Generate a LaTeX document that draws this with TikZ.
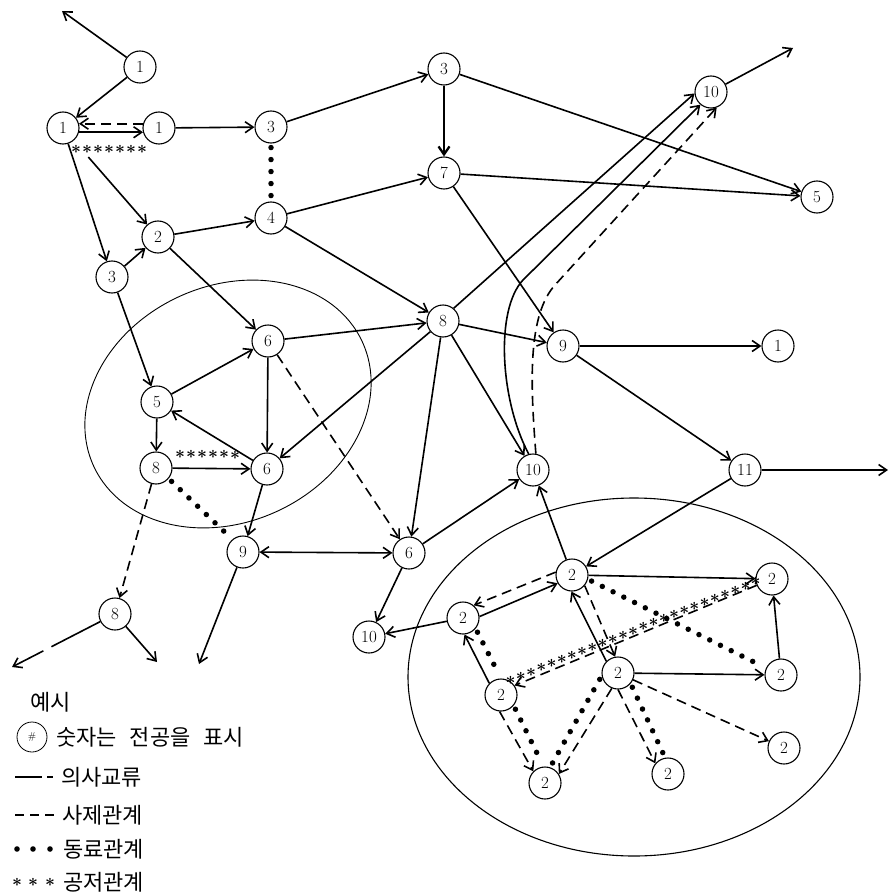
\documentclass[tikz,border=0pt]{standalone}
\usepackage{fontspec}
\newfontfamily\kr{Noto Sans CJK KR}
\usetikzlibrary{arrows.meta,calc,decorations.markings}
\begin{document}
\begin{tikzpicture}[x=1pt,y=-1pt,
  nd/.style={circle,draw,line width=1.1pt,minimum size=32pt,inner sep=0pt,font=\fontsize{17}{17}\selectfont},
  ed/.style={line width=1.6pt,-{Straight Barb[length=8pt,width=11pt]}},
  edd/.style={ed,dash pattern=on 10pt off 6pt},
  edb/.style={line width=1.6pt,{Straight Barb[length=8pt,width=11pt]}-{Straight Barb[length=8pt,width=11pt]}},
  bigdots/.style={line width=5.5pt,line cap=round,dash pattern=on 0pt off 12pt,shorten <=4pt,shorten >=4pt},
  astx/.style={inner sep=0pt,font=\fontsize{18}{18}\selectfont\boldmath},
  stars/.style={decoration={markings,mark=between positions 0 and 1 step 11pt with {\node[astx]{$\ast$};}},decorate},
  lgtext/.style={anchor=west,inner sep=0pt,font=\kr\fontsize{22}{22}\selectfont},
  ring/.style={line width=0.9pt}
]
\useasboundingbox (0,0) rectangle (891,896);

% enclosing ellipses
\draw[ring,rotate around={25:(228,404)}] (228,404) ellipse [x radius=148, y radius=118];
\draw[ring,line width=1.1pt] (634,677) ellipse [x radius=226, y radius=179];

% nodes
\node[nd] (A1) at (140,67) {1};
\node[nd] (B1) at (63,128) {1};
\node[nd] (C1) at (159,128) {1};
\node[nd] (D3) at (271,127) {3};
\node[nd] (E3) at (444,69) {3};
\node[nd] (F10) at (711,92) {10};
\node[nd] (G7) at (444,173) {7};
\node[nd] (H5) at (817,197) {5};
\node[nd] (I4) at (271,218) {4};
\node[nd] (J2) at (158,237) {2};
\node[nd] (K3) at (112,277) {3};
\node[nd] (L6) at (268,341) {6};
\node[nd] (M8) at (443,321) {8};
\node[nd] (N9) at (563,346) {9};
\node[nd] (O1) at (778,346) {1};
\node[nd] (P5) at (157,402) {5};
\node[nd] (Q8) at (156,468) {8};
\node[nd] (R6) at (267,469) {6};
\node[nd] (S10) at (533,470) {10};
\node[nd] (T11) at (745,470) {11};
\node[nd] (U9) at (243,552) {9};
\node[nd] (V6) at (409,553) {6};
\node[nd] (W8) at (115,614) {8};
\node[nd] (X10) at (369,637) {10};
\node[nd] (Ya) at (572,575) {2};
\node[nd] (Yb) at (772,579) {2};
\node[nd] (Yc) at (463,618) {2};
\node[nd] (Yd) at (618,673) {2};
\node[nd] (Ye) at (781,675) {2};
\node[nd] (Yf) at (501,695) {2};
\node[nd] (Yg) at (784,748) {2};
\node[nd] (Yh) at (545,783) {2};
\node[nd] (Yi) at (668,774) {2};

% free ends
\coordinate (oA) at (62,11);
\coordinate (oF) at (793,48);
\coordinate (oT) at (888,470);
\coordinate (oW1) at (12,667);
\coordinate (oW2) at (157,662);
\coordinate (oU) at (199,664);

% upper-left part
\draw[ed] (A1) -- (oA);
\draw[ed] (A1) -- (B1);
\draw[edd] (C1.165) -- (B1.15);
\draw[ed] (B1.-15) -- (C1.-165);
\path[stars] ($(B1)+(13,21)$) -- ($(C1)+(-9,21)$);
\draw[ed] (C1) -- (D3);
\draw[ed] (B1) -- (K3);
\draw[ed,shorten <=22pt] (B1) -- (J2);
\draw[ed] (K3) -- (J2);
\draw[ed] (J2) -- (I4);
\draw[bigdots] (D3.south) -- (I4.north);
\draw[ed] (D3) -- (E3);
\draw[ed,line width=2.3pt] (E3) -- (G7);
\draw[ed] (E3) -- (H5);
\draw[ed] (G7) -- (H5);
\draw[ed] (I4) -- (G7);
\draw[ed] (I4) -- (M8);
\draw[ed] (G7) -- (N9);

% left cluster
\draw[ed] (J2) -- (L6);
\draw[ed] (K3) -- (P5);
\draw[ed] (P5) -- (L6);
\draw[ed] (L6) -- (R6);
\draw[ed] (R6) -- (P5);
\draw[ed] (P5) -- (Q8);
\draw[ed] (Q8) -- (R6);
\path[stars] ($(Q8)+(24,-14)$) -- ($(R6)+(-28,-14)$);
\draw[bigdots] (Q8.-40) -- (U9.130);
\draw[edd] (Q8) -- (W8);
\draw[ed,dash pattern=on 55pt off 9pt] (W8) -- (oW1);
\draw[ed] (W8) -- (oW2);
\draw[ed] (R6) -- (U9);
\draw[ed] (U9) -- (oU);
\draw[edb] (U9) -- (V6);

% centre
\draw[ed] (L6) -- (M8);
\draw[edd] (L6) -- (V6);
\draw[ed] (M8) -- (R6);
\draw[ed] (M8) -- (V6);
\draw[ed] (M8) -- (S10);
\draw[ed] (M8) -- (N9);
\draw[ed] (M8.50) -- (F10.185);
\draw[ed] (S10.105) .. controls (500,400) and (495,310) .. (523,280) -- (F10.230);
\draw[edd] (S10.80) .. controls (530,380) and (528,315) .. (555,285) -- (F10.290);
\draw[ed] (F10) -- (oF);
\draw[ed] (V6) -- (S10);
\draw[ed] (V6) -- (X10);
\draw[ed] (N9) -- (O1);
\draw[ed] (N9) -- (T11);
\draw[ed] (T11) -- (oT);
\draw[ed] (T11) -- (Ya);

% right cluster
\draw[ed] (Ya) -- (S10);
\draw[ed] (Ya) -- (Yb);
\draw[edd] (Ya.170) -- (Yc.50);
\draw[ed] (Yc.5) -- (Ya.210);
\draw[ed] (Yd.135) -- (Ya.268);
\draw[edd] (Ya.-40) -- (Yd.100);
\draw[ed] (Yc) -- (X10);
\draw[ed] (Yf.135) -- (Yc.-85);
\draw[edd] (Yf.-95) -- (Yh.135);
\draw[edd] (Yd.-112) -- (Yh.33);
\draw[edd] (Yd.-90) -- (Yi.140);
\draw[ed] (Yd) -- (Ye);
\draw[edd] (Yd) -- (Yg);
\draw[ed] (Ye) -- (Yb);
\draw[edd] (Yb) -- (Yf.35);
\draw[bigdots] (Ya.-15) -- (Ye.155);
\path[stars] (Yb.190) -- (Yf.60);
\draw[bigdots] (Yc.-40) -- (Yf.90);
\draw[bigdots] (Yf.-40) -- (Yh.95);
\draw[bigdots] (Yd.190) -- (Yh.72);
\draw[bigdots] (Yd.-40) -- (Yi.100);

% legend
\node[lgtext] (lg0) at (30,702) {예시};
\node[circle,draw,line width=0.8pt,minimum size=30pt,inner sep=0pt,font=\fontsize{10}{10}\selectfont] (lgc) at (32,737) {\#};
\node[lgtext] (lg1) at (56,737) {숫자는\hspace{13pt}전공을\hspace{13pt}표시};
\coordinate (la1) at (15,777); \coordinate (la2) at (42,777);
\coordinate (la3) at (47,777); \coordinate (la4) at (53,777);
\draw[line width=1.5pt] (la1) -- (la2);
\draw[line width=1.5pt] (la3) -- (la4);
\node[lgtext] (lg2) at (61,777) {의사교류};
\coordinate (lb1) at (15,815); \coordinate (lb2) at (55,815);
\draw[line width=1.5pt,dash pattern=on 9pt off 6pt] (lb1) -- (lb2);
\node[lgtext] (lg3) at (62,815) {사제관계};
\fill (17,849) circle (2.8pt) (33,849) circle (2.8pt) (50,849) circle (2.8pt);
\node[lgtext] (lg4) at (63,849) {동료관계};
\node[astx] (s1) at (17,882) {$\ast$};
\node[astx] (s2) at (33,882) {$\ast$};
\node[astx] (s3) at (50,882) {$\ast$};
\node[lgtext] (lg5) at (63,882) {공저관계};
\end{tikzpicture}
\end{document}
